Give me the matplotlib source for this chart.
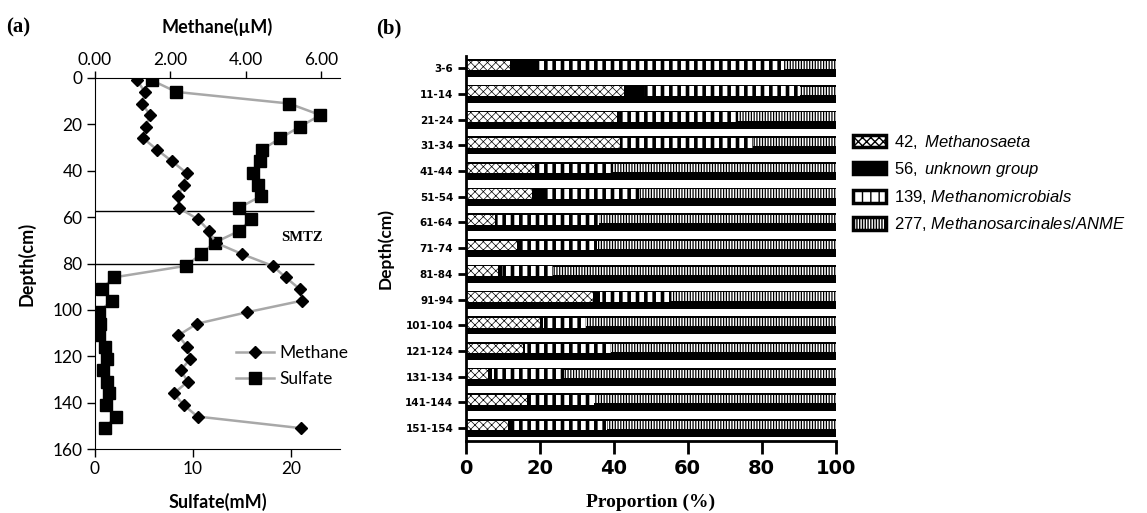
import numpy as np
import matplotlib
matplotlib.use("Agg")
import matplotlib.pyplot as plt
import matplotlib.patches as mpatches

plt.rcParams["font.family"] = ["Lato", "DejaVu Sans"]
plt.rcParams["mathtext.fontset"] = "custom"
plt.rcParams["mathtext.it"] = "Liberation Sans:italic"
plt.rcParams["mathtext.rm"] = "Liberation Sans"

# ---- panel (a): porewater profiles ----
depth = [1, 6, 11, 16, 21, 26, 31, 36, 41, 46, 51, 56, 61, 66, 71, 76,
         81, 86, 91, 96, 101, 106, 111, 116, 121, 126, 131, 136, 141, 146, 151]
sulfate = [5.8, 8.3, 19.8, 23.0, 20.9, 18.9, 17.0, 16.8, 16.1, 16.6, 16.9,
           14.7, 15.9, 14.7, 12.2, 10.8, 9.3, 1.9, 0.7, 1.7, 0.4, 0.5, 0.4,
           1.05, 1.25, 0.8, 1.25, 1.4, 1.1, 2.1, 1.0]
methane = [1.12, 1.32, 1.25, 1.46, 1.34, 1.28, 1.65, 2.05, 2.43, 2.35, 2.20,
           2.22, 2.74, 3.03, 3.2, 3.91, 4.71, 5.06, 5.43, 5.50, 4.04, 2.70,
           2.21, 2.45, 2.53, 2.28, 2.46, 2.09, 2.35, 2.72, 5.46]
smtz = [57.5, 80]

# ---- panel (b): community composition ----
intervals = ["3-6", "11-14", "21-24", "31-34", "41-44", "51-54", "61-64",
             "71-74", "81-84", "91-94", "101-104", "121-124", "131-134",
             "141-144", "151-154"]
methanosaeta = [12.0, 42.8, 40.8, 41.7, 18.7, 17.8, 7.9, 13.8, 8.8, 34.3,
                20.1, 15.6, 6.1, 16.5, 11.5]
unknown = [7.6, 5.4, 0.5, 0.6, 1.2, 3.6, 0.5, 0.9, 0.9, 2.0, 0.9, 0.4, 0.9,
           0.7, 0.9]
methanomicrobials = [66.5, 42.2, 31.9, 35.4, 19.8, 25.7, 27.5, 20.7, 13.8,
                     19.2, 11.5, 23.2, 19.7, 17.6, 25.7]
methanosarcinales = [13.9, 9.6, 26.8, 22.3, 60.3, 52.9, 64.1, 64.6, 76.5,
                     44.5, 67.5, 60.8, 73.3, 65.2, 61.9]
group_labels = [r"$\mathit{42,\ Methanosaeta}$",
                r"$\mathit{56,\ unknown\ group}$",
                r"139, $\mathit{Methanomicrobials}$",
                r"277, $\mathit{Methanosarcinales/ANME}$"]

W, H = 1147, 513
fig = plt.figure(figsize=(W / 100, H / 100), dpi=100)

# ===== (a) =====
ax1 = fig.add_axes([95 / W, 1 - 449 / H, 245 / W, 371 / H])
ax2 = ax1.twiny()

grey = "#a8a8a8"
l_sulf, = ax1.plot(sulfate, depth, color=grey, lw=1.8, marker="s", ms=8.5,
                   mfc="black", mec="black", label="Sulfate")
l_meth, = ax2.plot(methane, depth, color=grey, lw=1.8, marker="D", ms=6,
                   mfc="black", mec="black", label="Methane")
ax1.hlines(smtz, 0, 22.3, color="black", lw=1)
ax1.text(21.1, 69, "SMTZ", ha="center", va="center", fontsize=10.5,
         family="Liberation Serif", fontweight="bold")

ax1.set_ylim(160, 0)
ax1.set_xlim(0, 25)
ax2.set_xlim(0, 6.5)
ax1.set_yticks(np.arange(0, 161, 20))
ax1.set_xticks([0, 10, 20])
ax2.set_xticks([0, 2, 4, 6])
ax2.set_xticklabels(["%.2f" % v for v in [0, 2, 4, 6]])

for a in (ax1, ax2):
    a.spines["right"].set_visible(False)
ax1.spines["top"].set_visible(False)
ax2.spines["left"].set_visible(False)
ax2.spines["bottom"].set_visible(False)
ax1.tick_params(direction="out", length=6, width=1, labelsize=12.5, pad=3)
ax2.tick_params(direction="out", length=5, width=1, labelsize=12.5, pad=2)

ax1.set_xlabel("Sulfate(mM)", fontsize=13, fontweight="bold", labelpad=11)
ax2.set_xlabel("Methane(\u00b5M)", fontsize=13, fontweight="bold", labelpad=14)
ax1.set_ylabel("Depth(cm)", fontsize=13, fontweight="bold", labelpad=12)

ax2.legend(handles=[l_meth, l_sulf], loc="center left",
           bbox_to_anchor=(229 / W, 1 - 366 / H), bbox_transform=fig.transFigure,
           frameon=False, fontsize=12.5, handlelength=2.2, borderaxespad=0,
           labelspacing=0.6, handletextpad=0.3)

# ===== (b) =====
ax3 = fig.add_axes([465.7 / W, 1 - 441 / H, 370 / W, 385 / H])
y = np.arange(len(intervals))
series = [methanosaeta, unknown, methanomicrobials, methanosarcinales]
hatches = ["xxxx", None, "||", "||||||"]
hatch_lw = [0.5, 0, 2.6, 0.9]
windows = [(0.1, 0.38), None, (0.1, 0.38), (0.12, 0.32)]

left = np.zeros(len(intervals))
handles = []
for vals, h, hlw, win in zip(series, hatches, hatch_lw, windows):
    vals = np.array(vals)
    ax3.barh(y, vals, left=left, height=0.7, color="black", lw=0)
    if win is not None:
        bars = ax3.barh(y - win[0], vals, left=left, height=win[1],
                        facecolor="white", edgecolor="black", hatch=h, lw=0)
        for b in bars:
            if hasattr(b, "set_hatch_linewidth"):
                b.set_hatch_linewidth(hlw)
        hp = mpatches.Patch(facecolor="white", edgecolor="black", hatch=h, lw=2.5)
    else:
        hp = mpatches.Patch(facecolor="black", edgecolor="black", lw=2.5)
    if hasattr(hp, "set_hatch_linewidth"):
        hp.set_hatch_linewidth(min(hlw, 1.2) if hlw else 1)
    handles.append(hp)
    left = left + vals

ax3.set_xlim(0, 100)
ax3.set_ylim(14.5, -0.47)
ax3.set_yticks(y, intervals, fontsize=7.5, fontweight="bold",
               family="DejaVu Sans")
ax3.set_xticks(np.arange(0, 101, 20), [str(v) for v in range(0, 101, 20)],
               fontsize=14, fontweight="bold", family="DejaVu Sans")
ax3.tick_params(axis="x", direction="out", length=9, width=2, pad=4)
ax3.tick_params(axis="y", direction="out", length=6, width=2, pad=3)
for s in ("top", "right"):
    ax3.spines[s].set_visible(False)
for s in ("left", "bottom"):
    ax3.spines[s].set_linewidth(2)
ax3.set_xlabel("Proportion (%)", fontsize=14, fontweight="bold",
               family="Liberation Serif", labelpad=11)
ax3.set_ylabel("Depth(cm)", fontsize=12.5, fontweight="bold", labelpad=8)

leg = fig.legend(handles=handles, labels=group_labels, loc="upper left",
                 bbox_to_anchor=(846 / W, 1 - 126 / H), frameon=False,
                 prop={"family": "Liberation Sans", "size": 12},
                 handlelength=2.0, handleheight=0.8, labelspacing=0.55,
                 handletextpad=0.5, borderaxespad=0)

fig.text(6 / W, 1 - 27 / H, "(a)", fontsize=15, fontweight="bold",
         family="Liberation Serif", va="center")
fig.text(376 / W, 1 - 28 / H, "(b)", fontsize=15, fontweight="bold",
         family="Liberation Serif", va="center")

fig.savefig("out.png", dpi=100)
